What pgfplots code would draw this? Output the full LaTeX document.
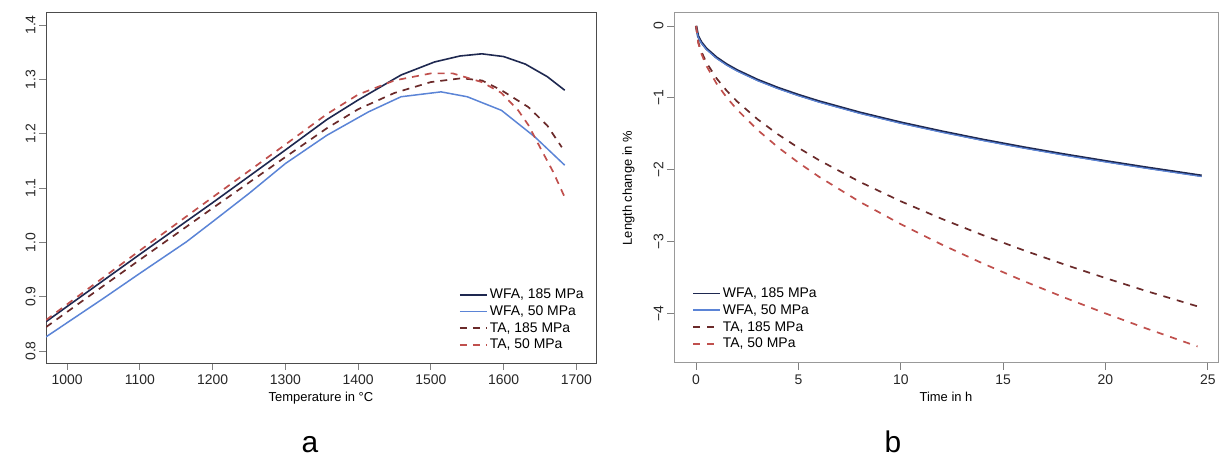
\documentclass[border=0pt]{standalone}
\usepackage{pgfplots}
\pgfplotsset{compat=1.18}
\usepackage{fontspec}
\setmainfont{Liberation Sans}
\definecolor{navy}{HTML}{1E2850}
\definecolor{cblue}{HTML}{5B84D6}
\definecolor{maroon}{HTML}{6B2A2A}
\definecolor{tared}{HTML}{C0504D}
\begin{document}
\begin{tikzpicture}[x=1bp,y=1bp]
\path[use as bounding box] (0,0) rectangle (1220,457);
\pgfplotsset{
  rstyle/.style={
    scale only axis,
    anchor=south west,
    tick align=outside,
    xtick pos=left, ytick pos=left,
    major tick length=7bp,
    tick style={line width=0.8bp},
    /pgf/number format/assume math mode=true,
    /pgf/number format/1000 sep={},
    ticklabel style={font=\fontsize{14}{16}\selectfont, text=black!85},
    yticklabel style={rotate=90, anchor=south},
    xticklabel style={anchor=north, yshift=-1bp},
    label style={font=\fontsize{13}{15}\selectfont},
    legend style={draw=none, fill=none, font=\fontsize{14}{16}\selectfont, row sep=1.5bp, inner sep=0pt},
    legend cell align=left,
    legend image code/.code={\draw[##1] (0bp,0bp) -- (27bp,0bp);},
  },
}
% ---------- panel a ----------
\begin{axis}[rstyle,
  at={(46bp,94bp)}, width=550bp, height=351bp,
  xmin=971, xmax=1727, ymin=0.778, ymax=1.424,
  xtick={1000,1100,...,1700},
  ytick={0.8,0.9,...,1.41},
  yticklabel style={/pgf/number format/.cd, fixed, fixed zerofill, precision=1},
  axis line style={draw=black!70, line width=0.8bp},
  xlabel={Temperature in °C},
  xlabel style={at={(axis description cs:0.5,0)}, anchor=north, yshift=-26bp},
  legend style={at={(axis cs:1713,0.797)}, anchor=south east},
]
\addplot[navy, line width=1.6bp] coordinates {
(971,0.854) (1000,0.882) (1100,0.978) (1200,1.073) (1300,1.170) (1357,1.226)
(1400,1.262) (1459,1.308) (1505,1.332) (1540,1.343) (1570,1.347) (1600,1.342)
(1630,1.328) (1660,1.305) (1684,1.280)};
\addlegendentry{WFA, 185 MPa}
\addplot[cblue, line width=1.5bp] coordinates {
(971,0.826) (1050,0.897) (1100,0.943) (1164,1.001) (1200,1.038) (1250,1.090)
(1300,1.145) (1357,1.197) (1414,1.240) (1459,1.268) (1514,1.277) (1550,1.268)
(1597,1.243) (1643,1.194) (1684,1.142)};
\addlegendentry{WFA, 50 MPa}
\addplot[maroon, line width=1.7bp, dash pattern=on 7bp off 6bp] coordinates {
(971,0.844) (1000,0.872) (1100,0.968) (1200,1.063) (1300,1.157) (1357,1.210)
(1400,1.245) (1450,1.275) (1500,1.295) (1542,1.302) (1570,1.298) (1597,1.280)
(1634,1.249) (1660,1.215) (1680,1.175)};
\addlegendentry{TA, 185 MPa}
\addplot[tared, line width=1.7bp, dash pattern=on 7bp off 6bp] coordinates {
(971,0.857) (1000,0.886) (1100,0.985) (1200,1.083) (1300,1.180) (1357,1.236)
(1400,1.272) (1450,1.298) (1500,1.311) (1530,1.311) (1570,1.295) (1597,1.275)
(1620,1.243) (1634,1.216) (1652,1.170) (1668,1.130) (1684,1.083)};
\addlegendentry{TA, 50 MPa}
\end{axis}
% ---------- panel b ----------
\begin{axis}[rstyle,
  at={(674bp,94bp)}, width=544bp, height=350bp,
  xmin=-1.08, xmax=25.5, ymin=-4.69, ymax=0.18,
  xtick={0,5,...,25},
  ytick={-4,-3,...,0},
  yticklabels={−4,−3,−2,−1,0},
  axis line style={draw=black!40, line width=1bp},
  xlabel={Time in h},
  xlabel style={at={(axis description cs:0.5,0)}, anchor=north, yshift=-26bp},
  ylabel={Length change in \%},
  ylabel style={at={(axis description cs:0,0.5)}, anchor=south, rotate=0, yshift=36bp},
  legend style={at={(axis cs:-0.2,-4.53)}, anchor=south west},
]
\addplot[navy, line width=2.4bp, forget plot] coordinates {
(0,0) (0.1,-0.144) (0.25,-0.225) (0.5,-0.315) (1,-0.440) (1.5,-0.536) (2,-0.616)
(3,-0.750) (4,-0.862) (5,-0.960) (6,-1.049) (8,-1.206) (10,-1.344) (12,-1.468)
(14,-1.583) (16,-1.689) (18,-1.788) (20,-1.881) (22,-1.970) (24.7,-2.084)};
\addplot[cblue, line width=1.2bp, forget plot] coordinates {
(0,-0.01) (0.1,-0.156) (0.25,-0.237) (0.5,-0.327) (1,-0.452) (1.5,-0.548) (2,-0.628)
(3,-0.762) (4,-0.874) (5,-0.972) (6,-1.061) (8,-1.218) (10,-1.356) (12,-1.480)
(14,-1.595) (16,-1.701) (18,-1.800) (20,-1.893) (22,-1.982) (24.7,-2.096)};
\addlegendimage{navy, line width=1.6bp}
\addlegendentry{WFA, 185 MPa}
\addlegendimage{cblue, line width=1.5bp}
\addlegendentry{WFA, 50 MPa}
\addplot[maroon, line width=1.7bp, dash pattern=on 7bp off 7bp] coordinates {
(0,0) (0.1,-0.218) (0.25,-0.353) (0.5,-0.508) (1,-0.730) (1.5,-0.903) (2,-1.050)
(3,-1.298) (4,-1.509) (5,-1.696) (6,-1.867) (8,-2.170) (10,-2.440) (12,-2.684)
(14,-2.910) (16,-3.121) (18,-3.320) (20,-3.508) (22,-3.689) (24.5,-3.902)};
\addlegendentry{TA, 185 MPa}
\addplot[tared, line width=1.7bp, dash pattern=on 7bp off 7bp] coordinates {
(0,0) (0.1,-0.234) (0.25,-0.382) (0.5,-0.554) (1,-0.803) (1.5,-0.998) (2,-1.164)
(3,-1.447) (4,-1.688) (5,-1.902) (6,-2.098) (8,-2.448) (10,-2.758) (12,-3.042)
(14,-3.304) (16,-3.549) (18,-3.780) (20,-4.000) (22,-4.210) (24.5,-4.460)};
\addlegendentry{TA, 50 MPa}
\end{axis}
\node[font=\fontsize{30}{34}\selectfont, anchor=base, inner sep=0pt] at (310,4) {a};
\node[font=\fontsize{30}{34}\selectfont, anchor=base, inner sep=0pt] at (893,4) {b};
\end{tikzpicture}
\end{document}
